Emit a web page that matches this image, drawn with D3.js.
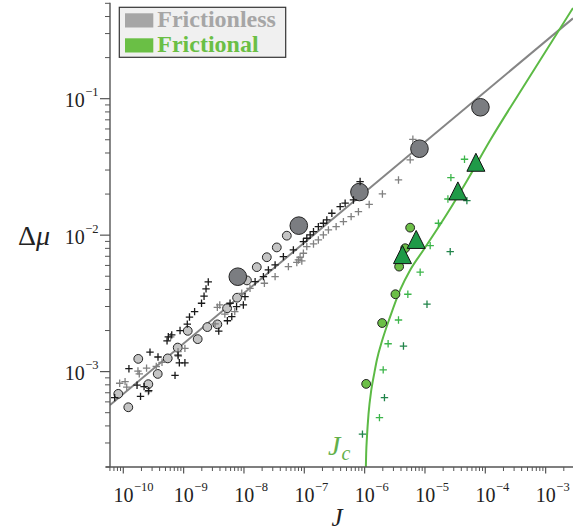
<!DOCTYPE html>
<html><head><meta charset="utf-8">
<script src="https://cdn.jsdelivr.net/npm/d3@7"></script>
<style>body{margin:0;background:#fff}svg{display:block}</style>
</head><body>
<svg id="c" width="573" height="531" font-family="'Liberation Serif', 'DejaVu Serif', serif"></svg>
<script>
// ---------- data ----------
const xTickValues = [1e-10,1e-9,1e-8,1e-7,1e-6,1e-5,1e-4,1e-3];
const xTickExps = ["−10","−9","−8","−7","−6","−5","−4","−3"];
const yTickValues = [1e-3,1e-2,1e-1];
const yTickExps = ["−3","−2","−1"];
const legendLabels = ["Frictionless","Frictional"];

// frictionless small circles
const smallCircJ  = [8.26e-11,1.21e-10,1.77e-10,2.60e-10,3.72e-10,5.45e-10,7.98e-10,1.17e-9,1.71e-9,2.47e-9,3.62e-9,5.25e-9,7.69e-9,1.12e-8,1.63e-8,2.39e-8,3.50e-8,5.13e-8];
const smallCircMu = [6.87e-4,5.48e-4,1.24e-3,8.09e-4,9.62e-4,1.25e-3,1.50e-3,1.99e-3,1.73e-3,2.12e-3,2.22e-3,2.91e-3,3.48e-3,4.66e-3,5.83e-3,6.89e-3,8.13e-3,9.91e-3];
// frictionless large circles
const bigCircJ  = [7.9e-9,8.1e-8,8.2e-7,8.1e-6,8.3e-5];
const bigCircMu = [4.96e-3,0.01174,0.0207,0.0430,0.0865];
// frictionless crosses (black)
const blackCrossJ = [7.20e-11,1.24e-10,1.69e-10,1.93e-10,2.21e-10,2.64e-10,2.77e-10,3.76e-10,5.31e-10,5.57e-10,6.35e-10,7.20e-10,8.07e-10,8.49e-10,1.05e-9,8.72e-10,1.15e-9,1.25e-9,1.52e-9,1.98e-9,2.18e-9,2.35e-9,2.56e-9,3.82e-9,5.31e-9,6.28e-9,7.54e-9,5.88e-9,9.77e-9,1.04e-8,1.53e-8,2.10e-8,2.54e-8,3.28e-8,4.50e-8,6.59e-8,9.66e-8,1.10e-7,1.25e-7,1.42e-7,1.71e-7,2.07e-7,2.36e-7,2.86e-7,3.93e-7,4.75e-7,6.52e-7,8.41e-7];
const blackCrossMu = [6.45e-4,1.05e-3,7.95e-4,6.58e-4,7.76e-4,7.26e-4,1.39e-3,1.28e-3,1.68e-3,1.80e-3,1.86e-3,9.38e-4,1.32e-3,1.16e-3,1.16e-3,2.00e-3,2.23e-3,2.51e-3,2.75e-3,3.17e-3,3.57e-3,4.04e-3,4.54e-3,1.98e-3,2.36e-3,2.53e-3,2.99e-3,3.17e-3,3.08e-3,3.54e-3,4.56e-3,4.97e-3,5.56e-3,6.05e-3,6.96e-3,7.79e-3,8.96e-3,9.49e-3,0.01003,0.01061,0.01154,0.01222,0.01292,0.01447,0.01618,0.01714,0.01811,0.0247];
// frictionless crosses (grey)
const greyCrossJ = [8.71e-11,1.07e-10,1.14e-10,1.75e-10,1.84e-10,2.43e-10,2.60e-10,3.52e-10,4.38e-10,6.11e-10,8.07e-10,8.17e-10,1.05e-9,3.32e-9,3.62e-9,3.97e-9,4.82e-9,7.04e-9,9.19e-9,1.26e-8,2.18e-8,3.28e-8,5.45e-8,7.51e-8,7.98e-8,8.51e-8,9.09e-8,9.66e-8,1.10e-7,1.42e-7,1.71e-7,2.07e-7,2.51e-7,3.37e-7,4.45e-7,5.97e-7,7.89e-7,1.19e-6,1.97e-6,3.64e-6,5.69e-6,6.30e-6];
const greyCrossMu = [8.22e-4,8.45e-4,7.69e-4,1.01e-3,9.62e-4,1.06e-3,7.14e-4,1.09e-3,1.17e-3,1.80e-3,1.40e-3,1.30e-3,1.48e-3,2.24e-3,2.96e-3,3.08e-3,2.64e-3,2.75e-3,3.75e-3,4.08e-3,4.44e-3,4.97e-3,5.88e-3,6.31e-3,6.58e-3,6.89e-3,6.47e-3,7.37e-3,8.24e-3,8.62e-3,9.22e-3,0.01003,0.01092,0.01154,0.01256,0.01367,0.01486,0.01679,0.02004,0.02537,0.0356,0.0504];
// frictional
const triJ  = [6.98e-5,3.51e-5,7.15e-6,4.24e-6];
const triMu = [0.0342,0.0211,9.3e-3,7.2e-3];
const greenCircJ  = [5.68e-6,4.70e-6,3.73e-6,3.24e-6,1.95e-6,1.06e-6];
const greenCircMu = [0.01135,8.02e-3,5.88e-3,3.69e-3,2.27e-3,8.13e-4];
const lightGreenCrossJ  = [4.52e-5,2.69e-5,2.40e-5,1.67e-5,1.22e-5,8.32e-6,5.20e-6,3.64e-6,2.45e-6,2.03e-6,1.76e-6];
const lightGreenCrossMu = [0.0360,0.0264,0.0184,0.01222,8.38e-3,5.35e-3,3.69e-3,2.39e-3,1.60e-3,1.03e-3,4.60e-4];
const darkGreenCrossJ  = [4.95e-5,2.62e-5,1.08e-5,4.40e-6,2.13e-6,9.20e-7];
const darkGreenCrossMu = [0.0179,7.57e-3,3.12e-3,1.54e-3,6.45e-4,3.48e-4];
// fit curves
const fitFrictionlessJ  = [6.02e-11,2.84e-3];
const fitFrictionlessMu = [5.70e-4,0.388];
const fitFrictionalJ  = [1.045e-6,1.06e-6,1.093e-6,1.16e-6,1.289e-6,1.45e-6,1.597e-6,1.968e-6,2.65e-6,3.88e-6,5.69e-6,9.44e-6,2.35e-5,5.05e-5,1.21e-4,3.79e-4,2.84e-3];
const fitFrictionalMu = [1.9e-4,2.5e-4,3.34e-4,4.9e-4,7.34e-4,9.8e-4,1.22e-3,1.71e-3,2.53e-3,3.97e-3,5.56e-3,7.79e-3,0.01446,0.0254,0.0498,0.1125,0.462];

// ---------- drawing ----------
const svg = d3.select("#c");
const L = 110, R = 573, T = 3.3, B = 467;
const x = d3.scaleLog().domain([6.02e-11, 2.84e-3]).range([L, R]);
const y = d3.scaleLog().domain([2e-4, 0.5]).range([B, T]);
const zip = (a, b) => a.map((v, i) => [v, b[i]]);
const FONT = "'Liberation Serif', 'DejaVu Serif', serif";

svg.append("defs").append("clipPath").attr("id","clip")
  .append("rect").attr("x",L).attr("y",0).attr("width",R-L+2).attr("height",B);

const plot = svg.append("g").attr("clip-path","url(#clip)");

plot.append("path").datum(zip(fitFrictionlessJ, fitFrictionlessMu))
  .attr("d", d3.line().x(d => x(d[0])).y(d => y(d[1])))
  .attr("fill","none").attr("stroke","#858585").attr("stroke-width",2);
plot.append("path").datum(zip(fitFrictionalJ, fitFrictionalMu))
  .attr("d", d3.line().x(d => x(d[0])).y(d => y(d[1])).curve(d3.curveMonotoneX))
  .attr("fill","none").attr("stroke","#5cba45").attr("stroke-width",2);

const cross = "M-3.7,0H3.7M0,-3.7V3.7";
function crosses(J, M, color) {
  plot.append("g").selectAll("path").data(zip(J, M)).join("path")
    .attr("d", cross).attr("transform", d => `translate(${x(d[0])},${y(d[1])})`)
    .attr("stroke", color).attr("stroke-width", 1.3).attr("fill","none");
}
function circles(J, M, r, fill) {
  plot.append("g").selectAll("circle").data(zip(J, M)).join("circle")
    .attr("cx", d => x(d[0])).attr("cy", d => y(d[1])).attr("r", r)
    .attr("fill", fill).attr("stroke","#222").attr("stroke-width",1);
}
circles(smallCircJ, smallCircMu, 4.4, "#c4c4c4");
circles(bigCircJ, bigCircMu, 8.8, "#7b7d81");
crosses(greyCrossJ, greyCrossMu, "#808080");
crosses(blackCrossJ, blackCrossMu, "#1a1a1a");
crosses(lightGreenCrossJ, lightGreenCrossMu, "#3cb54a");
crosses(darkGreenCrossJ, darkGreenCrossMu, "#21844a");
circles(greenCircJ, greenCircMu, 4.4, "#6cbf47");
plot.append("g").selectAll("path").data(zip(triJ, triMu)).join("path")
  .attr("d","M0,-9L9,9L-9,9Z").attr("transform", d => `translate(${x(d[0])},${y(d[1])})`)
  .attr("fill","#1f9a48").attr("stroke","#111").attr("stroke-width",1);

// ---------- axes ----------
const axisColor = "#555";
const ax = svg.append("g");
ax.append("line").attr("x1",106).attr("x2",573).attr("y1",B).attr("y2",B).attr("stroke",axisColor).attr("stroke-width",1.4);
ax.append("line").attr("x1",L).attr("x2",L).attr("y1",T-0.5).attr("y2",B).attr("stroke",axisColor).attr("stroke-width",1.4);

// x ticks
const xMinor = [];
for (let e = -11; e <= -3; e++) for (let k = 2; k <= 9; k++) { const v = k * Math.pow(10, e); if (v >= 6e-11 && v <= 2.84e-3) xMinor.push(v); }
ax.selectAll(".xm").data(xMinor).join("line").attr("x1", d => x(d)).attr("x2", d => x(d))
  .attr("y1", B).attr("y2", B + 4).attr("stroke", axisColor).attr("stroke-width", 1);
ax.selectAll(".xM").data(xTickValues).join("line").attr("x1", d => x(d)).attr("x2", d => x(d))
  .attr("y1", B).attr("y2", B + 6.5).attr("stroke", axisColor).attr("stroke-width", 1.2);
xTickValues.forEach((v, i) => {
  const t = ax.append("text").attr("x", x(v) - 9.8).attr("y", 501.7).attr("fill","#222").attr("font-family", FONT);
  t.append("tspan").attr("font-size", 20).text("10");
  t.append("tspan").attr("font-size", 12.5).attr("dy", -11).attr("dx", 0.5).text(xTickExps[i]);
});

// y ticks
const yMinor = [];
for (let e = -4; e <= -1; e++) for (let k = 2; k <= 9; k++) { const v = k * Math.pow(10, e); if (v >= 2e-4 && v <= 0.5) yMinor.push(v); }
ax.selectAll(".ym").data(yMinor).join("line").attr("y1", d => y(d)).attr("y2", d => y(d))
  .attr("x1", L - 5).attr("x2", L).attr("stroke", axisColor).attr("stroke-width", 1);
ax.selectAll(".yM").data(yTickValues).join("line").attr("y1", d => y(d)).attr("y2", d => y(d))
  .attr("x1", L - 10).attr("x2", L).attr("stroke", axisColor).attr("stroke-width", 1.2);
yTickValues.forEach((v, i) => {
  const t = ax.append("text").attr("x", 98.5).attr("y", y(v) + 8.6).attr("text-anchor","end").attr("fill","#222").attr("font-family", FONT);
  t.append("tspan").attr("font-size", 20).text("10");
  t.append("tspan").attr("font-size", 12.5).attr("dy", -11).attr("dx", 0.5).text(yTickExps[i]);
});

// axis titles
svg.append("text").attr("x", 337).attr("y", 526).attr("text-anchor","middle").attr("font-family", FONT)
  .attr("font-size", 25).attr("font-style","italic").attr("fill","#222").text("J");
const yl = svg.append("text").attr("x", 18).attr("y", 245).attr("font-size", 28).attr("fill","#222").attr("font-family", FONT);
yl.append("tspan").text("Δ");
yl.append("tspan").attr("font-style","italic").text("μ");

// Jc label
const jc = svg.append("text").attr("x", 328).attr("y", 455).attr("fill","#62b04a").attr("font-style","italic").attr("font-family", FONT);
jc.append("tspan").attr("font-size", 28).text("J");
jc.append("tspan").attr("font-size", 20).attr("dy", 5).attr("dx", 1).text("c");

// legend
const lg = svg.append("g");
lg.append("rect").attr("x",119.3).attr("y",7.3).attr("width",166.4).attr("height",50)
  .attr("fill","#f0f0f0").attr("stroke","#333").attr("stroke-width",1.2);
const legColors = ["#a6a6a6","#6abf45"];
legendLabels.forEach((lab, i) => {
  lg.append("rect").attr("x",125).attr("y", 13.3 + i*25).attr("width",28.3).attr("height",14.2).attr("fill",legColors[i]);
  lg.append("text").attr("x",157.3).attr("y", 27.3 + i*25).attr("font-size",24).attr("font-weight","bold").attr("font-family", FONT)
    .attr("fill",legColors[i]).text(lab);
});
</script>
</body></html>
